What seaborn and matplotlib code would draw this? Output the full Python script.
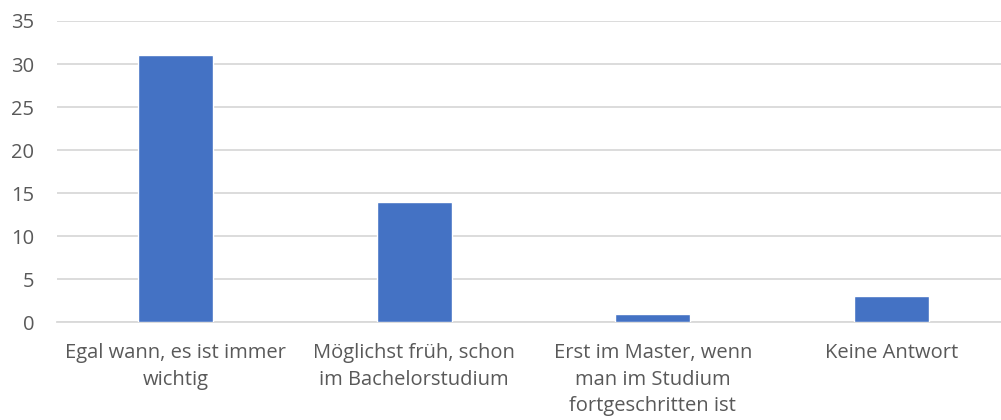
import matplotlib
matplotlib.use("Agg")
import matplotlib.pyplot as plt
import seaborn as sns
import pandas as pd

categories = [
    "Egal wann, es ist immer\nwichtig",
    "Möglichst früh, schon\nim Bachelorstudium",
    "Erst im Master, wenn\nman im Studium\nfortgeschritten ist",
    "Keine Antwort",
]
values = [31, 14, 1, 3]
y_ticks = [0, 5, 10, 15, 20, 25, 30, 35]

df = pd.DataFrame({"cat": categories, "val": values})

sns.set_style("white")
plt.rcParams["font.family"] = ["Open Sans", "DejaVu Sans"]

fig = plt.figure(figsize=(10.01, 4.2), dpi=100)
# plot area runs past the right edge of the picture, like the original
ax = fig.add_axes([0.0565, 0.233, 0.953, 0.717])
sns.barplot(data=df, x="cat", y="val", color="#4472C4", width=0.315,
            saturation=1, ax=ax, zorder=3)

ax.set_ylim(0, 35)
ax.set_yticks(y_ticks)
ax.set_xlim(-0.5, 3.5)
ax.grid(axis="y", color="#D9D9D9", linewidth=1.3, zorder=0)
ax.set_xlabel("")
ax.set_ylabel("")
for s in ["top", "right", "left"]:
    ax.spines[s].set_visible(False)
ax.spines["bottom"].set_color("#D9D9D9")
ax.spines["bottom"].set_linewidth(1.3)
ax.tick_params(axis="both", length=0, labelsize=14.5, colors="#595959")
ax.tick_params(axis="x", pad=15)
ax.tick_params(axis="y", pad=16)
for lbl in ax.get_xticklabels():
    lbl.set_linespacing(1.45)

fig.savefig("out.png", dpi=100)
